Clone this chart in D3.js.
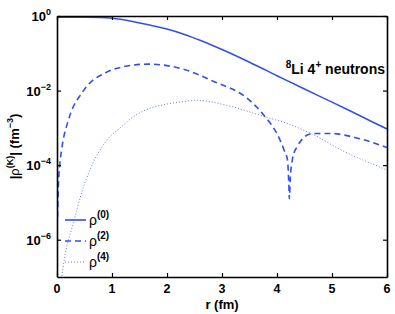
<!DOCTYPE html>
<html><head><meta charset="utf-8">
<script src="https://cdn.jsdelivr.net/npm/d3@7"></script>
<style>
body{margin:0;background:#fff;}
svg{display:block;font-family:"Liberation Sans",Arial,sans-serif;}
</style></head>
<body><div id="chart"></div>
<script>
// ---- data (y values are log10 of |rho|) ----
const xTicks = [0,1,2,3,4,5,6];
const yTickExps = [0,-2,-4,-6];
const r0 =      [0, 0.5, 1.0, 1.48, 2.0, 2.33, 2.6, 3.0, 3.5, 4.0, 4.5, 5.0, 5.5, 6.0];
const log10Rho0=[-0.03,-0.033,-0.06,-0.18,-0.35,-0.5,-0.65,-0.90,-1.24,-1.60,-1.96,-2.31,-2.67,-3.03];
const r2 =      [0.01,0.024,0.05,0.085,0.21,0.30,0.39,0.57,0.87,1.18,1.66,2.0,2.33,2.84,3.45,3.75,4.05,4.13,4.19,4.215,4.225,4.24,4.28,4.31,4.36,4.48,4.57,4.7,4.96,5.45,6.0];
const log10Rho2=[-5.4,-4.6,-4.0,-3.58,-2.78,-2.42,-2.2,-1.84,-1.53,-1.37,-1.29,-1.33,-1.44,-1.75,-2.2,-2.64,-3.31,-3.6,-3.85,-4.5,-4.9,-4.4,-3.85,-3.67,-3.52,-3.27,-3.18,-3.15,-3.15,-3.27,-3.53];
const r4 =      [0.08,0.145,0.30,0.45,0.63,0.87,1.18,1.39,1.66,2.0,2.33,2.54,3.15,3.75,4.24,4.57,4.66,5.15,6.0];
const log10Rho4=[-7.05,-6.43,-5.54,-4.73,-4.02,-3.40,-2.96,-2.70,-2.49,-2.36,-2.29,-2.26,-2.42,-2.69,-2.91,-3.12,-3.18,-3.58,-4.13];
const legendLabels = ["(0)","(2)","(4)"];

const W=395,H=314;
const m={left:57,top:16,right:8,bottom:37};
const color="#2f4ff5";
const svg=d3.select("#chart").append("svg").attr("width",W).attr("height",H);
const x=d3.scaleLinear().domain([0,6]).range([m.left,W-m.right]);
const y=d3.scaleLog().domain([1e-7,1]).range([H-m.bottom,m.top]);

svg.append("defs").append("clipPath").attr("id","clip")
 .append("rect").attr("x",m.left).attr("y",m.top).attr("width",x(6)-x(0)).attr("height",y(1e-7)-y(1));

const series=[
 {r:r0,v:log10Rho0,dash:null,w:1.6,op:1},
 {r:r2,v:log10Rho2,dash:"6,4",w:1.6,op:1},
 {r:r4,v:log10Rho4,dash:"1,2",w:1,op:0.75}
];
const line=d3.line().x(d=>x(d[0])).y(d=>y(Math.pow(10,d[1]))).curve(d3.curveMonotoneX);
const g=svg.append("g").attr("clip-path","url(#clip)");
series.forEach(s=>{
  g.append("path").attr("d",line(s.r.map((rr,i)=>[rr,s.v[i]])))
   .attr("fill","none").attr("stroke",color).attr("stroke-width",s.w)
   .attr("stroke-dasharray",s.dash).attr("opacity",s.op);
});

// axes
const yVals=yTickExps.map(e=>Math.pow(10,e));
const ax=(gen,tr)=>svg.append("g").attr("transform",tr).call(gen)
  .call(a=>a.select(".domain").attr("stroke","#000").attr("stroke-width",1.6))
  .call(a=>a.selectAll(".tick line").attr("stroke","#000").attr("stroke-width",1.2));
ax(d3.axisBottom(x).tickValues(xTicks).tickSizeInner(-4).tickSizeOuter(0).tickFormat(""),`translate(0,${y(1e-7)})`);
ax(d3.axisTop(x).tickValues(xTicks).tickSizeInner(-4).tickSizeOuter(0).tickFormat(""),`translate(0,${y(1)})`);
ax(d3.axisLeft(y).tickValues(yVals).tickSizeInner(-4).tickSizeOuter(0).tickFormat(""),`translate(${x(0)},0)`);
ax(d3.axisRight(y).tickValues(yVals).tickSizeInner(-4).tickSizeOuter(0).tickFormat(""),`translate(${x(6)},0)`);

// tick labels
svg.append("g").selectAll("text").data(xTicks).join("text")
 .attr("x",d=>x(d)).attr("y",y(1e-7)+15.5).attr("text-anchor","middle")
 .attr("font-size",12.5).attr("font-weight","bold").text(d=>d);
const yl=svg.append("g").selectAll("text").data(yTickExps).join("text")
 .attr("x",x(0)-6).attr("y",e=>y(Math.pow(10,e))+5).attr("text-anchor","end")
 .attr("font-size",13).attr("font-weight","bold");
yl.append("tspan").text("10");
yl.append("tspan").attr("dy",-6).attr("font-size",9).text(e=>e===0?"0":"\u2212"+(-e));

// axis titles
svg.append("text").attr("x",(x(0)+x(6))/2).attr("y",H-5.5).attr("text-anchor","middle")
 .attr("font-size",13).attr("font-weight","bold").text("r (fm)");
const yt=svg.append("text").attr("transform",`translate(19,${(y(1)+y(1e-7))/2}) rotate(-90)`)
 .attr("text-anchor","middle").attr("font-size",13).attr("font-weight","bold");
yt.append("tspan").text("|");
yt.append("tspan").attr("font-weight","normal").text("\u03c1");
yt.append("tspan").attr("dy",-6).attr("font-size",9).text("(K)");
yt.append("tspan").attr("dy",6).text("| (fm");
yt.append("tspan").attr("dy",-6).attr("font-size",9).text("\u22123");
yt.append("tspan").attr("dy",6).text(")");

// annotation
const an=svg.append("text").attr("x",x(6)-2).attr("y",y(Math.pow(10,-1.5))+2).attr("text-anchor","end")
 .attr("font-size",14).attr("font-weight","bold");
an.append("tspan").attr("dy",-6).attr("font-size",10).text("8");
an.append("tspan").attr("dy",6).text("Li 4");
an.append("tspan").attr("dy",-6).attr("font-size",10).text("+");
an.append("tspan").attr("dy",6).text(" neutrons");

// legend
const lg=svg.append("g");
series.forEach((s,i)=>{
  const yy=220+i*21;
  lg.append("line").attr("x1",65).attr("x2",86).attr("y1",yy).attr("y2",yy)
   .attr("stroke",color).attr("stroke-width",s.w).attr("stroke-dasharray",s.dash).attr("opacity",s.op);
  const t=lg.append("text").attr("x",89).attr("y",yy+5).attr("font-size",14);
  t.append("tspan").text("\u03c1");
  t.append("tspan").attr("dy",-7).attr("font-size",10).attr("font-weight","bold").text(legendLabels[i]);
});
</script></body></html>
